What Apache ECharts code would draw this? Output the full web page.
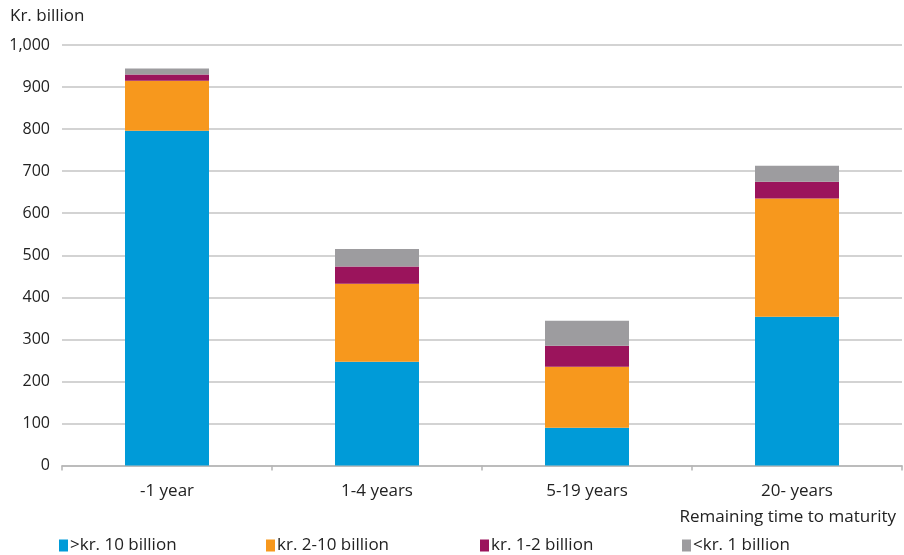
<!DOCTYPE html>
<html><head><meta charset="utf-8">
<script src="https://cdn.jsdelivr.net/npm/echarts@6/dist/echarts.min.js"></script>
<style>html,body{margin:0;padding:0;background:#fff}#c{width:904px;height:555px}</style>
</head><body><div id="c"></div>
<script>
const categories = ['-1 year', '1-4 years', '5-19 years', '20- years'];
const seriesNames = ['>kr. 10 billion', 'kr. 2-10 billion', 'kr. 1-2 billion', '<kr. 1 billion'];
const over10 = [796, 247, 90, 354];
const from2to10 = [119, 185, 145, 281];
const from1to2 = [15, 41, 50, 40];
const under1 = [14, 42, 59, 38];
const yTicks = [0, 100, 200, 300, 400, 500, 600, 700, 800, 900, 1000];

const colors = ['#009bd8', '#f7981d', '#9b145c', '#9d9c9f'];
const values = [over10, from2to10, from1to2, under1];
const font = 'Open Sans';
const chart = echarts.init(document.getElementById('c'));
const legendLefts = [54, 261, 475, 677];
chart.setOption({
  animation: false,
  textStyle: {fontFamily: font},
  grid: {left: 62, right: 2, top: 45, bottom: 89.5},
  title: [
    {text: 'Kr. billion', left: 5, top: 3, textStyle: {fontFamily: font, fontSize: 17, fontWeight: 'normal', color: '#222'}},
    {text: 'Remaining time to maturity', right: 3, top: 504, textStyle: {fontFamily: font, fontSize: 17, fontWeight: 'normal', color: '#222'}}
  ],
  legend: seriesNames.map((n, i) => ({
    data: [n], left: legendLefts[i], top: 532, itemWidth: 9, itemHeight: 12, itemGap: 4,
    icon: 'rect', textStyle: {fontFamily: font, fontSize: 17, color: '#222', padding: [0, 0, 0, -3]}
  })),
  xAxis: {
    type: 'category', data: categories,
    axisLine: {lineStyle: {color: '#b5b5b5', width: 1.5}},
    axisTick: {show: true, length: 5, lineStyle: {color: '#b5b5b5', width: 1.5}},
    axisLabel: {fontFamily: font, fontSize: 17, color: '#222', margin: 17}
  },
  yAxis: {
    type: 'value', min: 0, max: 1000, interval: 100,
    axisLine: {show: false}, axisTick: {show: false},
    splitLine: {lineStyle: {color: '#c4c4c4', width: 1.5}},
    axisLabel: {fontFamily: font, fontSize: 16, color: '#222', margin: 12,
      formatter: v => yTicks.includes(v) ? v.toLocaleString('en-US') : ''}
  },
  series: seriesNames.map((n, i) => ({
    name: n, type: 'bar', stack: 'total', barWidth: 84, data: values[i],
    itemStyle: {color: colors[i]}
  }))
});
</script></body></html>
